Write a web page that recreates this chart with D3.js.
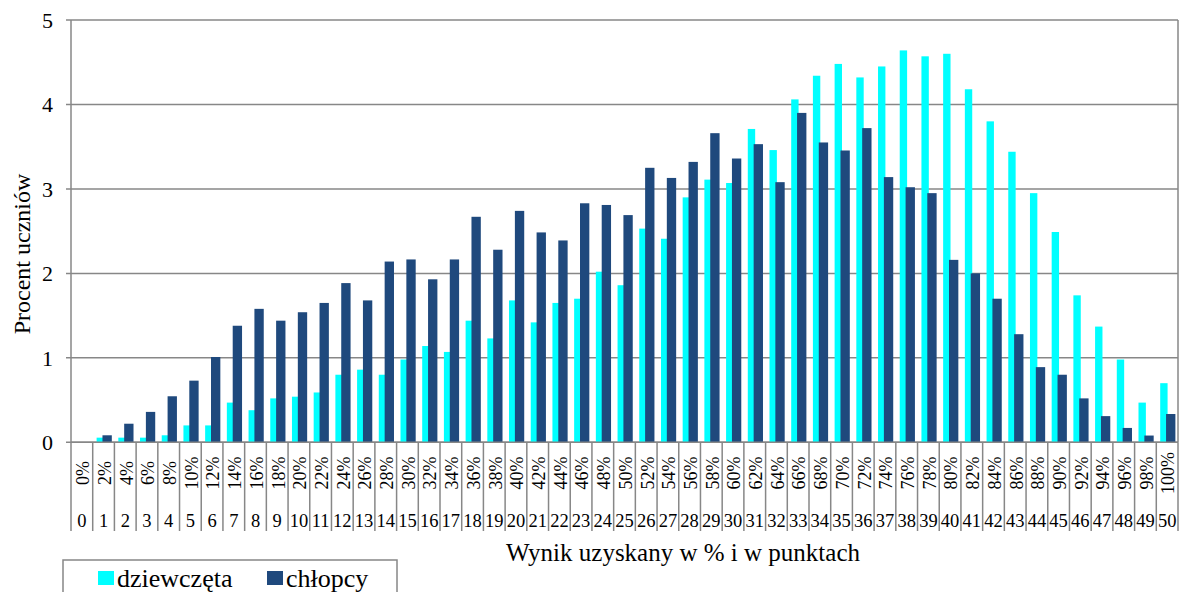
<!DOCTYPE html>
<html>
<head>
<meta charset="utf-8">
<script src="https://cdn.jsdelivr.net/npm/d3@7/dist/d3.min.js"></script>
<style>
    body { margin: 0; background: #fff; }
    svg { display: block; }
    svg text { font-family: "Liberation Serif", "DejaVu Serif", serif; fill: #000; }
</style>
</head>
<body>
<svg id="chart" width="1179" height="592"></svg>
<script>
"use strict";



//
// Data
//

var points = ["0", "1", "2", "3", "4", "5", "6", "7", "8", "9", "10",
    "11", "12", "13", "14", "15", "16", "17", "18", "19", "20",
    "21", "22", "23", "24", "25", "26", "27", "28", "29", "30",
    "31", "32", "33", "34", "35", "36", "37", "38", "39", "40",
    "41", "42", "43", "44", "45", "46", "47", "48", "49", "50"];

var percents = ["0%", "2%", "4%", "6%", "8%", "10%", "12%", "14%", "16%", "18%", "20%",
    "22%", "24%", "26%", "28%", "30%", "32%", "34%", "36%", "38%", "40%",
    "42%", "44%", "46%", "48%", "50%", "52%", "54%", "56%", "58%", "60%",
    "62%", "64%", "66%", "68%", "70%", "72%", "74%", "76%", "78%", "80%",
    "82%", "84%", "86%", "88%", "90%", "92%", "94%", "96%", "98%", "100%"];

var girls = [0, 0.055, 0.055, 0.055, 0.083, 0.2, 0.2, 0.47, 0.38, 0.52, 0.54,
    0.59, 0.8, 0.86, 0.8, 0.98, 1.14, 1.07, 1.44, 1.23, 1.68,
    1.42, 1.65, 1.70, 2.02, 1.86, 2.53, 2.41, 2.90, 3.11, 3.07,
    3.71, 3.46, 4.06, 4.34, 4.48, 4.32, 4.45, 4.64, 4.57, 4.60,
    4.18, 3.80, 3.44, 2.95, 2.49, 1.74, 1.37, 0.98, 0.47, 0.70];

var boys = [0, 0.083, 0.22, 0.36, 0.545, 0.73, 1.01, 1.38, 1.58, 1.44, 1.54,
    1.65, 1.885, 1.68, 2.14, 2.165, 1.93, 2.165, 2.67, 2.28, 2.74,
    2.485, 2.39, 2.83, 2.81, 2.69, 3.25, 3.13, 3.32, 3.66, 3.36,
    3.53, 3.08, 3.90, 3.55, 3.455, 3.72, 3.14, 3.02, 2.95, 2.16,
    2.0, 1.70, 1.28, 0.89, 0.80, 0.52, 0.31, 0.17, 0.08, 0.335];

var yTicks = [0, 1, 2, 3, 4, 5];

var seriesNames = ["dziewczęta", "chłopcy"];
var seriesColors = ["#00ffff", "#1f497d"];



//
// Scales
//

var plot = { left: 71, right: 1178, top: 20, bottom: 442.3 };
var gridColor = "#878787";

var svg = d3.select("#chart");

var x = d3.scaleBand()
    .domain(points)
    .range([plot.left, plot.right])
    .padding(0);

var y = d3.scaleLinear()
    .domain([0, 5])
    .range([plot.bottom, plot.top]);

var bw = x.bandwidth();


//
// Grid and frame
//

svg.append("g")
    .selectAll("line")
    .data(yTicks)
    .join("line")
    .attr("x1", plot.left - 5)
    .attr("x2", plot.right)
    .attr("y1", function (d) { return y(d); })
    .attr("y2", function (d) { return y(d); })
    .style("stroke", gridColor)
    .style("stroke-width", 1.5);

svg.append("line")
    .attr("x1", plot.right).attr("x2", plot.right)
    .attr("y1", plot.top).attr("y2", plot.bottom)
    .style("stroke", gridColor)
    .style("stroke-width", 1.5);


//
// Bars
//

var bars = svg.append("g");

bars.selectAll("rect.girls")
    .data(girls)
    .join("rect")
    .attr("class", "girls")
    .attr("x", function (d, i) { return x(points[i]) + bw * 0.18; })
    .attr("width", bw * 0.34)
    .attr("y", function (d) { return y(d); })
    .attr("height", function (d) { return plot.bottom - y(d); })
    .style("fill", seriesColors[0]);

bars.selectAll("rect.boys")
    .data(boys)
    .join("rect")
    .attr("class", "boys")
    .attr("x", function (d, i) { return x(points[i]) + bw * 0.45; })
    .attr("width", bw * 0.43)
    .attr("y", function (d) { return y(d); })
    .attr("height", function (d) { return plot.bottom - y(d); })
    .style("fill", seriesColors[1]);


//
// Y axis
//

svg.append("line")
    .attr("x1", plot.left).attr("x2", plot.left)
    .attr("y1", plot.top).attr("y2", 531)
    .style("stroke", gridColor)
    .style("stroke-width", 1.5);

svg.append("g")
    .selectAll("text")
    .data(yTicks)
    .join("text")
    .attr("x", 53)
    .attr("y", function (d) { return y(d); })
    .attr("dy", "0.35em")
    .attr("text-anchor", "end")
    .style("font-size", "22px")
    .text(function (d) { return d; });

svg.append("text")
    .attr("transform", "translate(30,254) rotate(-90)")
    .attr("text-anchor", "middle")
    .style("font-size", "24px")
    .text("Procent uczniów");


//
// X axis (two level categories)
//

svg.append("line")
    .attr("x1", plot.left).attr("x2", plot.right)
    .attr("y1", plot.bottom).attr("y2", plot.bottom)
    .style("stroke", gridColor)
    .style("stroke-width", 1.5);

svg.append("g")
    .selectAll("line")
    .data(points.slice(1))
    .join("line")
    .attr("x1", function (d) { return x(d); })
    .attr("x2", function (d) { return x(d); })
    .attr("y1", plot.bottom)
    .attr("y2", 531)
    .style("stroke", gridColor)
    .style("stroke-width", 1.5);

svg.append("line")
    .attr("x1", plot.right).attr("x2", plot.right)
    .attr("y1", plot.bottom).attr("y2", 531)
    .style("stroke", gridColor)
    .style("stroke-width", 1.5);

svg.append("g")
    .selectAll("text")
    .data(percents)
    .join("text")
    .attr("transform", function (d, i) {
        return "translate(" + (x(points[i]) + bw / 2 + 1) + ",473) rotate(-90)";
    })
    .attr("text-anchor", "middle")
    .attr("dy", "0.35em")
    .style("font-size", "18px")
    .text(function (d) { return d; });

svg.append("g")
    .selectAll("text")
    .data(points)
    .join("text")
    .attr("x", function (d) { return x(d) + bw / 2; })
    .attr("y", 527)
    .attr("text-anchor", "middle")
    .style("font-size", "18.5px")
    .text(function (d) { return d; });

svg.append("text")
    .attr("x", 683)
    .attr("y", 561)
    .attr("text-anchor", "middle")
    .style("font-size", "25px")
    .text("Wynik uzyskany w %  i w punktach");


//
// Legend
//

var legend = svg.append("g");

legend.append("rect")
    .attr("x", 63)
    .attr("y", 560)
    .attr("width", 334)
    .attr("height", 60)
    .style("fill", "none")
    .style("stroke", gridColor)
    .style("stroke-width", 1.5);

var legendX = [98, 267];

seriesNames.forEach(function (name, i) {

    legend.append("rect")
        .attr("x", legendX[i])
        .attr("y", 571)
        .attr("width", 16)
        .attr("height", 14)
        .style("fill", seriesColors[i]);

    legend.append("text")
        .attr("x", legendX[i] + 19)
        .attr("y", 587)
        .style("font-size", "26px")
        .text(name);
});

</script>
</body>
</html>
